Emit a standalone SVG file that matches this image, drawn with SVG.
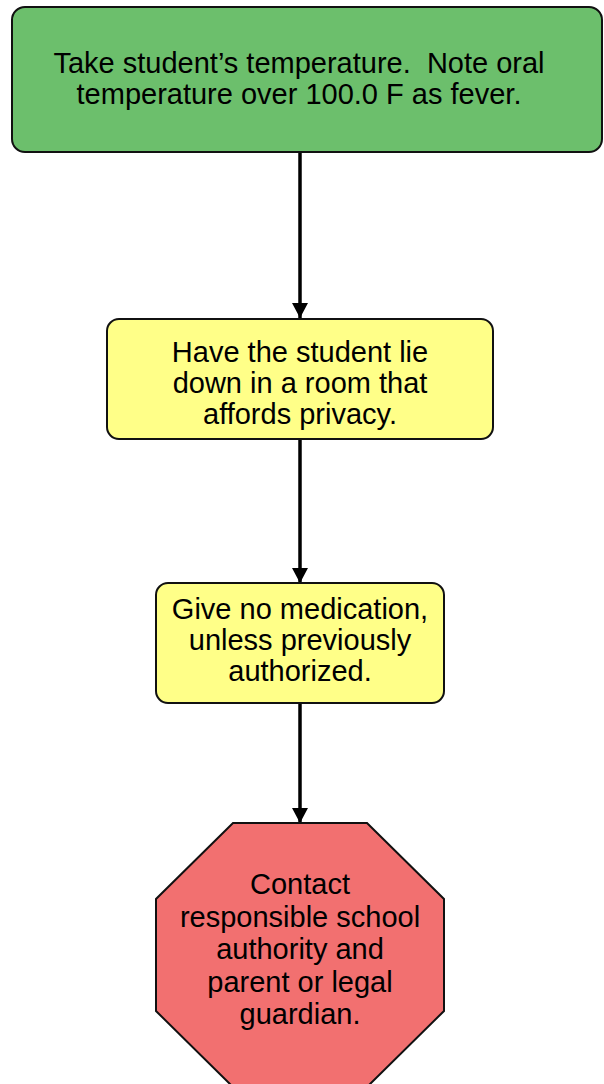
<svg xmlns="http://www.w3.org/2000/svg" width="604" height="1084" viewBox="0 0 604 1084">
<style>
.t{font-family:"Liberation Sans",Arial,sans-serif;font-size:29px;fill:#000;text-anchor:middle;white-space:pre}
.n{stroke:#111;stroke-width:2}
.c{stroke:#000;stroke-width:3.5;fill:none}
</style>
<defs>
<marker id="ah" markerUnits="userSpaceOnUse" markerWidth="16" markerHeight="16" refX="15" refY="8" orient="auto">
<path d="M0,0 L15,8 L0,16 Z" fill="#000"/>
</marker>
</defs>
<g id="connectors">
<line class="c" x1="300" y1="152" x2="300" y2="318" marker-end="url(#ah)"/>
<line class="c" x1="300" y1="439" x2="300" y2="583" marker-end="url(#ah)"/>
<line class="c" x1="300" y1="703" x2="300" y2="823" marker-end="url(#ah)"/>
</g>
<g id="n1">
<rect class="n" x="12" y="7" width="590" height="145" rx="13" fill="#6cbf6c"/>
<text class="t" x="299" y="73" xml:space="preserve">Take student’s temperature.  Note oral</text>
<text class="t" x="299" y="104">temperature over 100.0 F as fever.</text>
</g>
<g id="n2">
<rect class="n" x="107" y="319" width="386" height="120" rx="12" fill="#ffff88"/>
<text class="t" x="300" y="362">Have the student lie</text>
<text class="t" x="300" y="393">down in a room that</text>
<text class="t" x="300" y="424">affords privacy.</text>
</g>
<g id="n3">
<rect class="n" x="156" y="583" width="288" height="120" rx="12" fill="#ffff88"/>
<text class="t" x="300" y="619">Give no medication,</text>
<text class="t" x="300" y="650">unless previously</text>
<text class="t" x="300" y="681">authorized.</text>
</g>
<g id="n4">
<polygon class="n" points="233,823 367,823 444,899 444,1011 367,1087 233,1087 156,1011 156,899" fill="#f27070"/>
<text class="t" x="300" y="894">Contact</text>
<text class="t" x="300" y="927">responsible school</text>
<text class="t" x="300" y="959">authority and</text>
<text class="t" x="300" y="992">parent or legal</text>
<text class="t" x="300" y="1024">guardian.</text>
</g>
</svg>
